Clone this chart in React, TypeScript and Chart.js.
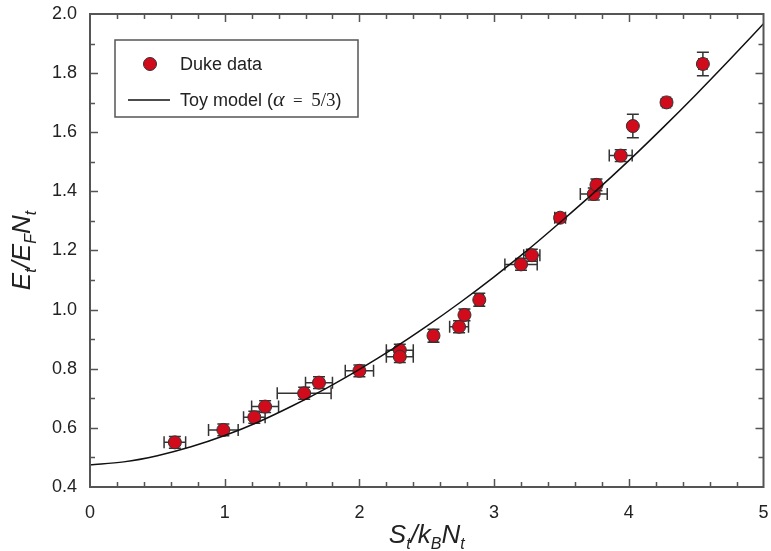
import React, { useEffect, useRef } from "react";
import { Chart, registerables } from "chart.js";

Chart.register(...registerables);

// Duke data
const dukeS = [0.63, 0.99, 1.22, 1.3, 1.59, 1.7, 2.0, 2.3, 2.3, 2.55, 2.74, 2.78, 2.89, 3.2, 3.28, 3.49, 3.74, 3.76, 3.94, 4.03, 4.28, 4.55];
const dukeE = [0.551, 0.593, 0.636, 0.672, 0.717, 0.753, 0.793, 0.863, 0.841, 0.912, 0.942, 0.982, 1.033, 1.153, 1.184, 1.311, 1.391, 1.422, 1.521, 1.621, 1.701, 1.831];
const dukeSErr = [0.08, 0.11, 0.08, 0.1, 0.2, 0.1, 0.105, 0.1, 0.1, 0.03, 0.07, 0.03, 0.03, 0.12, 0.06, 0.04, 0.1, 0.03, 0.085, 0.02, 0.03, 0.03];
const dukeEErr = [0.02, 0.02, 0.02, 0.02, 0.02, 0.02, 0.02, 0.02, 0.02, 0.022, 0.02, 0.02, 0.022, 0.02, 0.02, 0.015, 0.02, 0.02, 0.02, 0.04, 0.012, 0.04];

// Toy model curve
const curveS = [0, 0.25, 0.5, 0.75, 1.0, 1.25, 1.5, 1.75, 2.0, 2.25, 2.5, 2.75, 3.0, 3.25, 3.5, 3.75, 4.0, 4.25, 4.5, 4.75, 5.0];
const curveE = [0.475, 0.485, 0.506, 0.536, 0.574, 0.62, 0.674, 0.733, 0.798, 0.868, 0.944, 1.025, 1.111, 1.202, 1.299, 1.399, 1.504, 1.614, 1.728, 1.846, 1.967];

const xMin = 0, xMax = 5, xMajor = 1, xMinor = 0.2;
const yMin = 0.4, yMax = 2.0, yMajor = 0.2, yMinor = 0.1;

const SANS = '"Liberation Sans", Arial, sans-serif';
const SERIF = '"Liberation Serif", "Times New Roman", serif';
const RED = "#d10a1c";
const AXIS = "#555555";
const TEXT = "#222222";

type Part = { t: string; font: string; dy: number };

function drawParts(ctx: CanvasRenderingContext2D, parts: Part[], x: number, y: number, align: "left" | "center") {
  let w = 0;
  parts.forEach((p) => {
    ctx.font = p.font;
    w += ctx.measureText(p.t).width;
  });
  let cx = align === "center" ? x - w / 2 : x;
  ctx.textBaseline = "alphabetic";
  ctx.textAlign = "left";
  parts.forEach((p) => {
    ctx.font = p.font;
    ctx.fillText(p.t, cx, y + p.dy);
    cx += ctx.measureText(p.t).width;
  });
}

export default function App() {
  const ref = useRef<HTMLCanvasElement>(null);

  useEffect(() => {
    document.body.style.margin = "0";
    const canvas = ref.current!;

    const errorBars = {
      id: "errorBars",
      beforeDatasetsDraw(chart: any) {
        const { ctx } = chart;
        const xs = chart.scales.x;
        const ys = chart.scales.y;
        ctx.save();
        ctx.strokeStyle = "#333333";
        ctx.lineWidth = 1.5;
        const cap = 6;
        for (let i = 0; i < dukeS.length; i++) {
          const px = xs.getPixelForValue(dukeS[i]);
          const py = ys.getPixelForValue(dukeE[i]);
          const x1 = xs.getPixelForValue(dukeS[i] - dukeSErr[i]);
          const x2 = xs.getPixelForValue(dukeS[i] + dukeSErr[i]);
          const y1 = ys.getPixelForValue(dukeE[i] - dukeEErr[i]);
          const y2 = ys.getPixelForValue(dukeE[i] + dukeEErr[i]);
          ctx.beginPath();
          ctx.moveTo(x1, py); ctx.lineTo(x2, py);
          ctx.moveTo(x1, py - cap); ctx.lineTo(x1, py + cap);
          ctx.moveTo(x2, py - cap); ctx.lineTo(x2, py + cap);
          ctx.moveTo(px, y1); ctx.lineTo(px, y2);
          ctx.moveTo(px - cap, y1); ctx.lineTo(px + cap, y1);
          ctx.moveTo(px - cap, y2); ctx.lineTo(px + cap, y2);
          ctx.stroke();
        }
        ctx.restore();
      },
    };

    const frame = {
      id: "frame",
      afterDraw(chart: any) {
        const { ctx, chartArea: a } = chart;
        const xs = chart.scales.x;
        const ys = chart.scales.y;
        ctx.save();
        // ticks
        ctx.strokeStyle = AXIS;
        ctx.lineWidth = 1.5;
        ctx.beginPath();
        const nx = Math.round((xMax - xMin) / xMinor);
        for (let k = 1; k < nx; k++) {
          const v = xMin + k * xMinor;
          const isMajor = Math.abs(v / xMajor - Math.round(v / xMajor)) < 1e-6;
          const len = isMajor ? 8 : 5;
          const px = Math.round(xs.getPixelForValue(v)) + 0.5;
          ctx.moveTo(px, a.bottom); ctx.lineTo(px, a.bottom - len);
          ctx.moveTo(px, a.top); ctx.lineTo(px, a.top + len);
        }
        const ny = Math.round((yMax - yMin) / yMinor);
        for (let k = 1; k < ny; k++) {
          const v = yMin + k * yMinor;
          const isMajor = Math.abs((v - yMin) / yMajor - Math.round((v - yMin) / yMajor)) < 1e-6;
          const len = isMajor ? 8 : 5;
          const py = Math.round(ys.getPixelForValue(v)) + 0.5;
          ctx.moveTo(a.left, py); ctx.lineTo(a.left + len, py);
          ctx.moveTo(a.right, py); ctx.lineTo(a.right - len, py);
        }
        ctx.stroke();
        // box
        ctx.lineWidth = 2;
        ctx.strokeRect(a.left, a.top, a.right - a.left, a.bottom - a.top);

        // axis titles
        ctx.fillStyle = TEXT;
        const big = `italic 26px ${SANS}`;
        const sub = `italic 16px ${SANS}`;
        drawParts(ctx, [
          { t: "S", font: big, dy: 0 },
          { t: "t", font: sub, dy: 6 },
          { t: "/", font: big, dy: 0 },
          { t: "k", font: big, dy: 0 },
          { t: "B", font: sub, dy: 6 },
          { t: "N", font: big, dy: 0 },
          { t: "t", font: sub, dy: 6 },
        ], (a.left + a.right) / 2, 543, "center");

        ctx.save();
        ctx.translate(30, (a.top + a.bottom) / 2);
        ctx.rotate(-Math.PI / 2);
        drawParts(ctx, [
          { t: "E", font: big, dy: 0 },
          { t: "t", font: sub, dy: 6 },
          { t: "/", font: big, dy: 0 },
          { t: "E", font: big, dy: 0 },
          { t: "F", font: sub, dy: 6 },
          { t: "N", font: big, dy: 0 },
          { t: "t", font: sub, dy: 6 },
        ], 0, 0, "center");
        ctx.restore();

        // legend
        const lx = 115, ly = 40, lw = 243, lh = 77;
        ctx.lineWidth = 1.5;
        ctx.strokeStyle = AXIS;
        ctx.fillStyle = "#ffffff";
        ctx.fillRect(lx, ly, lw, lh);
        ctx.strokeRect(lx, ly, lw, lh);
        ctx.beginPath();
        ctx.arc(150, 64, 6.5, 0, Math.PI * 2);
        ctx.fillStyle = RED;
        ctx.fill();
        ctx.strokeStyle = "#333333";
        ctx.lineWidth = 1;
        ctx.stroke();
        ctx.beginPath();
        ctx.strokeStyle = "#111111";
        ctx.lineWidth = 1.5;
        ctx.moveTo(128, 100); ctx.lineTo(170, 100);
        ctx.stroke();
        ctx.fillStyle = TEXT;
        const lf = `18px ${SANS}`;
        drawParts(ctx, [{ t: "Duke data", font: lf, dy: 0 }], 180, 70, "left");
        drawParts(ctx, [
          { t: "Toy model (", font: lf, dy: 0 },
          { t: "α", font: `italic 22px ${SERIF}`, dy: 0 },
          { t: "  =  ", font: `17px ${SERIF}`, dy: 0 },
          { t: "5/3", font: `19px ${SERIF}`, dy: 0 },
          { t: ")", font: lf, dy: 0 },
        ], 180, 106, "left");
        ctx.restore();
      },
    };

    const chart = new Chart(canvas, {
      type: "scatter",
      data: {
        datasets: [
          {
            label: "Toy model (α = 5/3)",
            data: curveS.map((s, i) => ({ x: s, y: curveE[i] })),
            showLine: true,
            borderColor: "#111111",
            borderWidth: 1.5,
            pointRadius: 0,
            cubicInterpolationMode: "monotone",
          } as any,
          {
            label: "Duke data",
            data: dukeS.map((s, i) => ({ x: s, y: dukeE[i] })),
            pointRadius: 6.5,
            pointBackgroundColor: RED,
            pointBorderColor: "#333333",
            pointBorderWidth: 1,
            showLine: false,
          },
        ],
      },
      options: {
        animation: false,
        responsive: false,
        layout: { padding: { left: 0, top: 14, right: 6, bottom: 0 } },
        plugins: { legend: { display: false }, tooltip: { enabled: false } },
        scales: {
          x: {
            type: "linear",
            min: xMin,
            max: xMax,
            grid: { display: false, drawTicks: false },
            border: { display: false },
            ticks: { stepSize: xMajor, padding: 15, color: TEXT, font: { family: SANS, size: 18 }, callback: (v: any) => String(v) },
            afterFit: (s: any) => { s.height = 64; s.paddingLeft = 0; s.paddingRight = 0; },
          },
          y: {
            type: "linear",
            min: yMin,
            max: yMax,
            grid: { display: false, drawTicks: false },
            border: { display: false },
            ticks: { stepSize: yMajor, padding: 13, color: TEXT, font: { family: SANS, size: 18 }, callback: (v: any) => Number(v).toFixed(1) },
            afterFit: (s: any) => { s.width = 90; s.paddingTop = 0; s.paddingBottom = 0; },
          },
        },
      },
      plugins: [errorBars, frame],
    });
    return () => chart.destroy();
  }, []);

  return (
    <div style={{ width: 771, height: 551 }}>
      <canvas ref={ref} width={771} height={551} style={{ display: "block" }} />
    </div>
  );
}
